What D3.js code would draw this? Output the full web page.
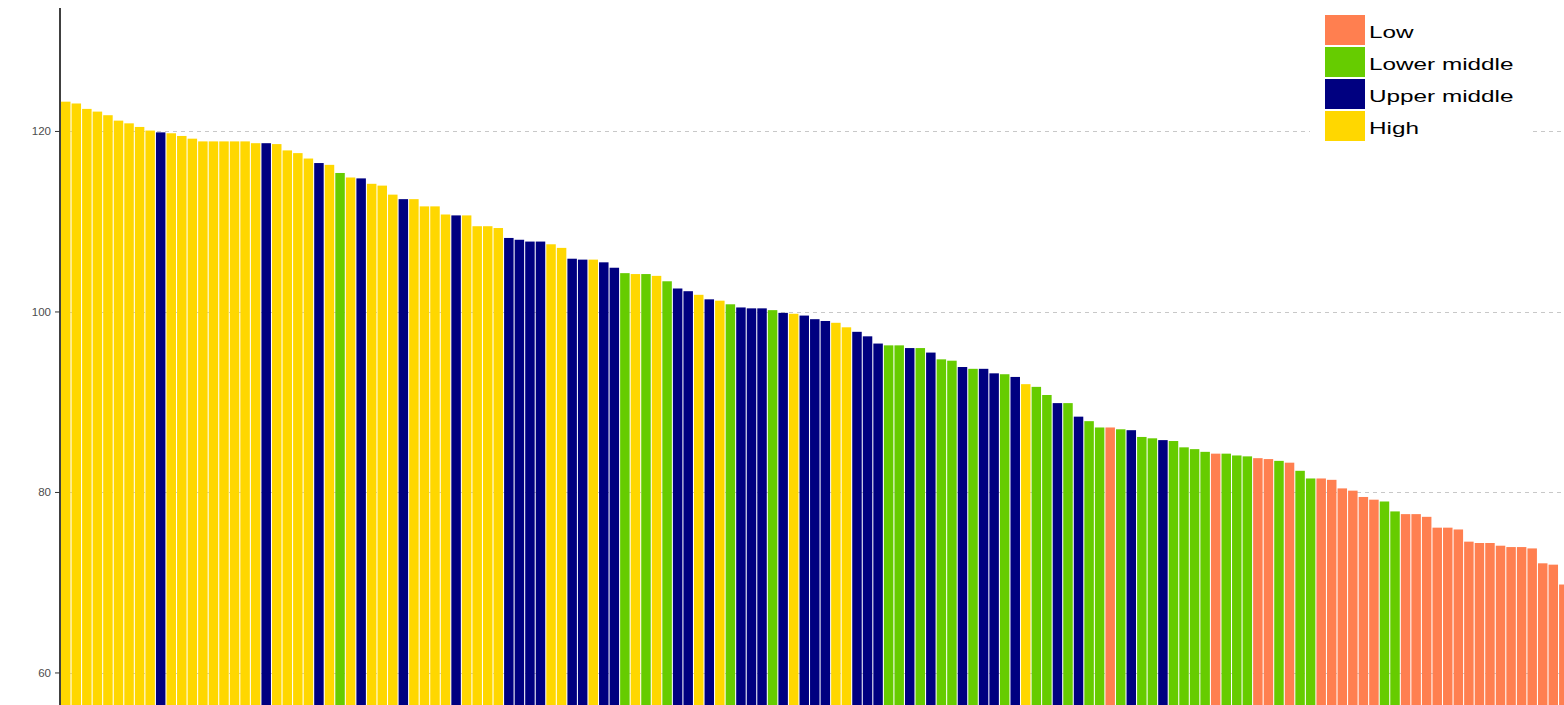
<!DOCTYPE html>
<html>
<head>
<meta charset="utf-8">
<script src="https://cdn.jsdelivr.net/npm/d3@7"></script>
<style>
  html, body { margin: 0; padding: 0; background: #fff; }
  svg { display: block; font-family: "Liberation Sans", Arial, sans-serif; }
</style>
</head>
<body>
<svg id="chart" width="1564" height="705"></svg>
<script>
// ---- data ----
const incomeGroups = ["Low", "Lower middle", "Upper middle", "High"];
const groupColors = ["#FF7F50", "#66CC00", "#000080", "#FFD700"];
const yTicks = [60, 80, 100, 120];

const values = [
  123.3, 123.1, 122.5, 122.2, 121.8, 121.2, 120.9, 120.5, 120.1, 119.9,
  119.8, 119.5, 119.2, 118.9, 118.9, 118.9, 118.9, 118.9, 118.7, 118.7,
  118.6, 117.9, 117.6, 117.0, 116.5, 116.3, 115.4, 114.9, 114.8, 114.2,
  114.0, 113.0, 112.5, 112.5, 111.7, 111.7, 110.8, 110.7, 110.7, 109.5,
  109.5, 109.3, 108.2, 108.0, 107.8, 107.8, 107.5, 107.1, 105.9, 105.8,
  105.8, 105.5, 104.9, 104.3, 104.2, 104.2, 104.0, 103.4, 102.6, 102.3,
  101.9, 101.4, 101.25, 100.85, 100.5, 100.4, 100.4, 100.2, 99.9, 99.8,
  99.6, 99.2, 99.0, 98.8, 98.3, 97.8, 97.3, 96.5, 96.3, 96.3,
  96.0, 96.0, 95.5, 94.75, 94.6, 93.9, 93.7, 93.7, 93.2, 93.1,
  92.8, 92.0, 91.7, 90.8, 89.9, 89.9, 88.4, 87.9, 87.2, 87.2,
  87.0, 86.9, 86.15, 86.0, 85.8, 85.7, 85.0, 84.8, 84.5, 84.3,
  84.3, 84.1, 84.0, 83.8, 83.7, 83.5, 83.3, 82.4, 81.55, 81.55,
  81.4, 80.45, 80.2, 79.5, 79.2, 79.0, 77.9, 77.6, 77.6, 77.3,
  76.1, 76.1, 75.9, 74.55, 74.4, 74.4, 74.1, 73.95, 73.95, 73.8,
  72.15, 72.0, 69.8
];
// H = High, U = Upper middle, L = Lower middle, W = Low
const groups = (
  "HHHHHHHHHU" + "HHHHHHHHHU" + "HHHHUHLHUH" + "HHUHHHHUHH" + "HHUUUUHHUU" +
  "HUULHLHLUU" + "HUHLUUULUH" + "UUUHHUUULL" + "ULULLULUUL" + "UHLLULULLW" +
  "LULLULLLLW" + "LLLWWLWLLW" + "WWWWWLLWWW" + "WWWWWWWWWW" + "WWW"
).split("");
const groupIndex = { W: 0, L: 1, U: 2, H: 3 };

// ---- layout ----
const W = 1564, H = 705;
const svg = d3.select("#chart");
svg.append("rect").attr("width", W).attr("height", H).attr("fill", "#fff");

const y = d3.scaleLinear().domain([56.45, 133.68]).range([705, 8]);
const x = d3.scaleBand()
  .domain(d3.range(values.length))
  .range([60.47, 1569.1])
  .paddingInner(0.1)
  .paddingOuter(0.05);

const TX = 1.43; // horizontal text stretch of the original image

// grid lines (behind bars)
svg.append("g").selectAll("line").data(yTicks).join("line")
  .attr("x1", 61).attr("x2", W)
  .attr("y1", d => Math.round(y(d)) + 0.5).attr("y2", d => Math.round(y(d)) + 0.5)
  .attr("stroke", "#c8c8c8").attr("stroke-width", 1)
  .attr("stroke-dasharray", "4,4");

// bars
svg.append("g").selectAll("rect").data(values).join("rect")
  .attr("x", (d, i) => x(i))
  .attr("width", x.bandwidth())
  .attr("y", d => y(d))
  .attr("height", d => H - y(d))
  .attr("fill", (d, i) => groupColors[groupIndex[groups[i]]]);

// y axis
const axis = svg.append("g");
axis.append("line").attr("x1", 60).attr("x2", 60).attr("y1", 8).attr("y2", H)
  .attr("stroke", "#000").attr("stroke-width", 1.5);
axis.selectAll(".tick").data(yTicks).join("line")
  .attr("x1", 55).attr("x2", 60)
  .attr("y1", d => y(d)).attr("y2", d => y(d))
  .attr("stroke", "#333").attr("stroke-width", 1);
axis.selectAll("text").data(yTicks).join("text")
  .attr("transform", d => `translate(51,${y(d) + 4}) scale(1.05,1)`)
  .attr("text-anchor", "end")
  .attr("font-size", 11)
  .attr("fill", "#4d4d4d")
  .text(d => d);

// legend
const lg = svg.append("g");
lg.append("rect").attr("x", 1310).attr("y", 8).attr("width", 220).attr("height", 138)
  .attr("fill", "#fff");
const items = lg.selectAll("g.item").data(incomeGroups).join("g")
  .attr("class", "item")
  .attr("transform", (d, i) => `translate(1325,${15 + i * 32})`);
items.append("rect").attr("width", 40).attr("height", 30)
  .attr("fill", (d, i) => groupColors[i]);
items.append("text")
  .attr("transform", `translate(44,23) scale(${TX},1)`)
  .attr("font-size", 17)
  .attr("fill", "#000")
  .text(d => d);
</script>
</body>
</html>
